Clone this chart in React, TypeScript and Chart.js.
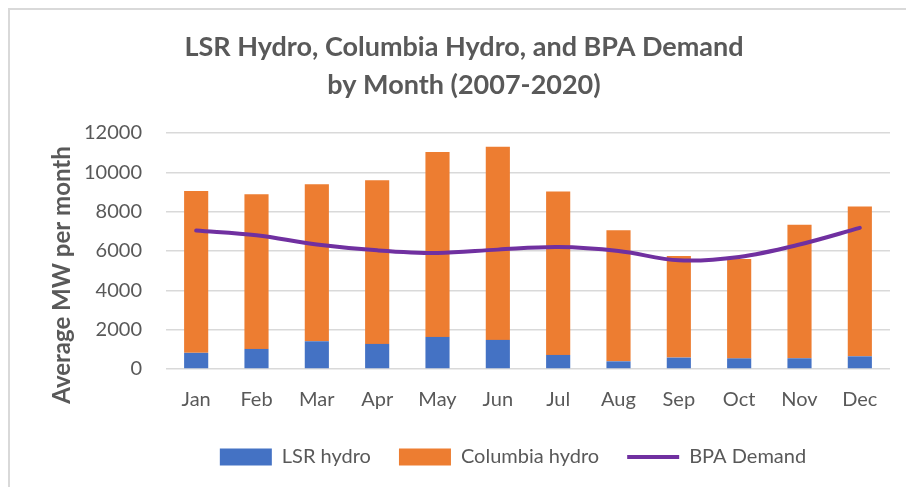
import React, { useEffect, useRef } from "react";
import { Chart, registerables } from "chart.js";

Chart.register(...registerables);

const months = ["Jan", "Feb", "Mar", "Apr", "May", "Jun", "Jul", "Aug", "Sep", "Oct", "Nov", "Dec"];
const lsrHydro = [820, 1020, 1410, 1275, 1630, 1480, 715, 390, 580, 540, 545, 645];
const columbiaHydro = [8225, 7870, 7990, 8325, 9405, 9820, 8315, 6665, 5165, 5050, 6785, 7620];
const bpaDemand = [7040, 6800, 6330, 6035, 5900, 6070, 6200, 6000, 5525, 5700, 6330, 7175];
const titleLines = ["LSR Hydro, Columbia Hydro, and BPA Demand", "by Month (2007-2020)"];
const yAxisTitle = "Average MW per month";

const FONT = "Lato, 'Open Sans', 'DejaVu Sans', sans-serif";
const TEXT = "#595959";
const LEGEND_PAD = 28;

const framePlugin = {
  id: "frame",
  beforeDraw(chart: any) {
    const ctx = chart.ctx;
    ctx.save();
    ctx.fillStyle = "#ffffff";
    ctx.fillRect(0, 0, chart.width, chart.height);
    ctx.fillStyle = "#d9d9d9";
    ctx.fillRect(8, 8, chart.width - 8, 2);
    ctx.fillRect(8, 8, 2, chart.height - 8);
    ctx.restore();
  },
  afterLayout(chart: any) {
    const lg = chart.legend;
    if (lg) {
      const dx = 513 - (lg.left + lg.right) / 2;
      lg.left += dx;
      lg.right += dx;
      lg.top = 457 - LEGEND_PAD - 10;
      lg.bottom = lg.top + lg.height;
    }
    const tb = chart.titleBlock;
    if (tb) {
      const dx = 464 - (tb.left + tb.right) / 2;
      tb.left += dx;
      tb.right += dx;
    }
  },
  afterDraw(chart: any) {
    const ctx = chart.ctx;
    ctx.save();
    ctx.translate(62, 275);
    ctx.rotate(-Math.PI / 2);
    ctx.font = `bold 24px ${FONT}`;
    ctx.fillStyle = TEXT;
    ctx.textAlign = "center";
    ctx.textBaseline = "middle";
    ctx.fillText(yAxisTitle, 0, 0);
    ctx.restore();
  },
};

export default function App() {
  const ref = useRef<HTMLCanvasElement | null>(null);
  useEffect(() => {
    document.body.style.margin = "0";
    const canvas = ref.current;
    if (!canvas) return;
    const chart = new Chart(canvas, {
      type: "bar",
      data: {
        labels: months,
        datasets: [
          {
            type: "bar",
            label: "LSR hydro",
            data: lsrHydro,
            backgroundColor: "#4472C4",
            stack: "hydro",
            order: 1,
            barPercentage: 1,
            categoryPercentage: 0.4,
          },
          {
            type: "bar",
            label: "Columbia hydro",
            data: columbiaHydro,
            backgroundColor: "#ED7D31",
            stack: "hydro",
            order: 1,
            barPercentage: 1,
            categoryPercentage: 0.4,
          },
          {
            type: "line",
            label: "BPA Demand",
            data: bpaDemand,
            borderColor: "#7030A0",
            backgroundColor: "#7030A0",
            borderWidth: 4,
            pointRadius: 0,
            tension: 0.35,
            borderCapStyle: "round",
            stack: "demand",
            order: 0,
          } as any,
        ],
      },
      options: {
        responsive: false,
        animation: false,
        devicePixelRatio: 1,
        layout: { padding: { left: 0, right: 16, top: 0, bottom: 5 - (LEGEND_PAD - 21) } },
        plugins: {
          title: {
            display: true,
            text: titleLines,
            color: TEXT,
            font: { family: FONT, size: 27, weight: "bold", lineHeight: 38 / 27 },
            padding: { top: 28, bottom: 29 },
          },
          legend: {
            position: "bottom",
            labels: {
              usePointStyle: true,
              pointStyleWidth: 52,
              boxHeight: 17,
              padding: LEGEND_PAD,
              color: TEXT,
              font: { family: FONT, size: 20 },
              sort: (a: any, b: any) => a.datasetIndex - b.datasetIndex,
              generateLabels: (c: any) => {
                const items = (Chart.defaults.plugins.legend.labels as any).generateLabels(c);
                return items.map((it: any) => {
                  if (it.datasetIndex === 2) {
                    return { ...it, pointStyle: "line", lineWidth: 4, strokeStyle: "#7030A0", fillStyle: "#7030A0" };
                  }
                  return { ...it, pointStyle: "rect", lineWidth: 0 };
                });
              },
            },
          },
          tooltip: { enabled: false },
        },
        scales: {
          x: {
            stacked: true,
            grid: { display: false, drawTicks: false },
            border: { display: false },
            ticks: { color: TEXT, font: { family: FONT, size: 20 }, padding: 19, maxRotation: 0 },
          },
          y: {
            stacked: true,
            min: 0,
            max: 12000,
            afterFit: (scale: any) => {
              scale.width = 166;
            },
            grid: { color: "#d9d9d9", lineWidth: 1.5, drawTicks: false },
            border: { display: false },
            ticks: {
              stepSize: 2000,
              color: TEXT,
              font: { family: FONT, size: 20 },
              padding: 24,
              callback: (v: any) => String(v),
            },
          },
        },
      },
      plugins: [framePlugin],
    });
    return () => chart.destroy();
  }, []);
  return (
    <div style={{ position: "fixed", left: 0, top: 0, width: 906, height: 487 }}>
      <canvas ref={ref} width={906} height={487} style={{ display: "block" }} />
    </div>
  );
}
